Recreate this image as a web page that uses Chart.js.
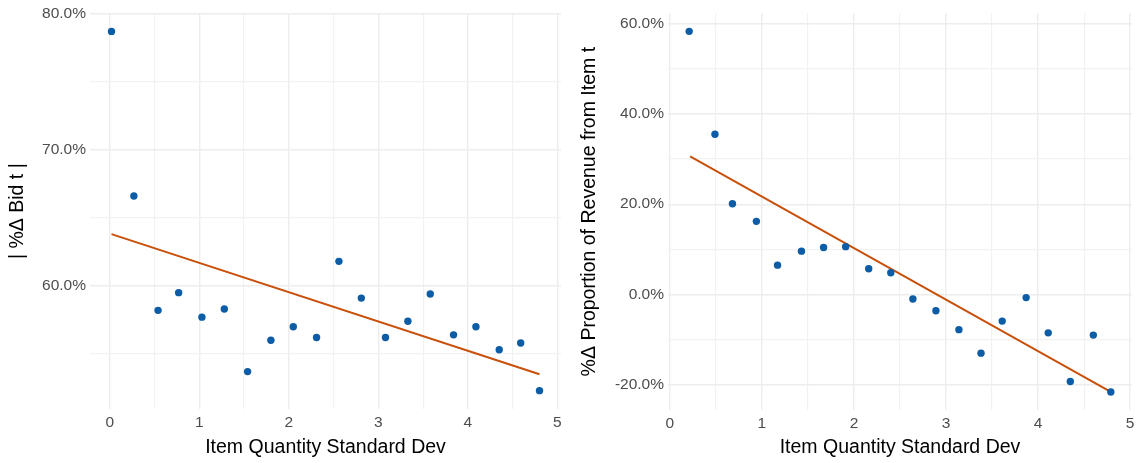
<!DOCTYPE html>
<html lang="en">
<head>
    <meta charset="UTF-8">
    <title>Item Quantity Standard Dev</title>
    <script src="https://cdn.jsdelivr.net/npm/chart.js"></script>
    <style>
        body { margin: 0; background: #fff; }
        .wrap { position: relative; width: 1141px; height: 463px; }
        #bidChart { position: absolute; left: 0; top: 0; }
        #revChart { position: absolute; left: 570px; top: 0; }
    </style>
</head>
<body>
    <div class="wrap">
        <canvas id="bidChart" width="570" height="463"></canvas>
        <canvas id="revChart" width="571" height="463"></canvas>
    </div>

    <script>
        // left panel: |% change in bid| by item quantity sd
        const bidSd = [0.02, 0.27, 0.54, 0.77, 1.03, 1.28, 1.54, 1.80, 2.05, 2.31,
                       2.56, 2.81, 3.08, 3.33, 3.58, 3.84, 4.09, 4.35, 4.59, 4.80];
        const bidPct = [78.7, 66.6, 58.2, 59.5, 57.7, 58.3, 53.7, 56.0, 57.0, 56.2,
                        61.8, 59.1, 56.2, 57.4, 59.4, 56.4, 57.0, 55.3, 55.8, 52.3];
        const bidFitX = [0.02, 4.80];
        const bidFitY = [63.8, 53.5];

        // right panel: % change in revenue share from item t
        const revSd = [0.21, 0.49, 0.68, 0.94, 1.17, 1.43, 1.67, 1.91, 2.16, 2.40,
                       2.64, 2.89, 3.14, 3.38, 3.61, 3.87, 4.11, 4.35, 4.60, 4.79];
        const revPct = [58.3, 35.5, 20.1, 16.2, 6.5, 9.6, 10.4, 10.6, 5.7, 4.8,
                        -1.0, -3.6, -7.8, -13.0, -5.9, -0.7, -8.5, -19.3, -9.0, -21.6];
        const revFitX = [0.22, 4.78];
        const revFitY = [30.6, -21.5];

        // tick positions (major get labels, minor only grid lines)
        const xMajor = [0, 1, 2, 3, 4, 5];
        const xMinor = [0.5, 1.5, 2.5, 3.5, 4.5];
        const bidYMajor = [60, 70, 80];
        const bidYMinor = [55, 65, 75];
        const revYMajor = [-20, 0, 20, 40, 60];
        const revYMinor = [-10, 10, 30, 50];

        const FONT = "'Liberation Sans', Arial, sans-serif";
        const pointColor = '#0C5DA5';
        const lineColor = '#C8500A';

        function toPoints(xs, ys) {
            return xs.map((x, i) => ({ x: x, y: ys[i] }));
        }

        function gridOpts(major) {
            return {
                drawTicks: false,
                color: ctx => major.includes(ctx.tick.value) ? '#EDEDED' : '#F2F2F2',
                lineWidth: ctx => major.includes(ctx.tick.value) ? 1.4 : 1.2
            };
        }

        function makeChart(id, cfg) {
            const ctx = document.getElementById(id).getContext('2d');
            return new Chart(ctx, {
                type: 'scatter',
                data: {
                    datasets: [{
                        data: toPoints(cfg.xs, cfg.ys),
                        backgroundColor: pointColor,
                        borderColor: pointColor,
                        pointRadius: 3.7,
                        borderWidth: 0
                    }, {
                        data: toPoints(cfg.fitX, cfg.fitY),
                        showLine: true,
                        borderColor: lineColor,
                        borderWidth: 2,
                        pointRadius: 0
                    }]
                },
                options: {
                    responsive: false,
                    animation: false,
                    layout: { padding: { top: cfg.padTop, right: 9, bottom: 0, left: 0 } },
                    plugins: { legend: { display: false }, tooltip: { enabled: false } },
                    scales: {
                        x: {
                            type: 'linear',
                            min: cfg.xMin,
                            max: cfg.xMax,
                            border: { display: false },
                            grid: gridOpts(xMajor),
                            afterBuildTicks: s => {
                                s.ticks = xMajor.concat(xMinor).sort((a, b) => a - b).map(v => ({ value: v }));
                            },
                            afterFit: s => { s.height = cfg.xHeight; },
                            ticks: {
                                padding: 4,
                                color: '#4D4D4D',
                                font: { family: FONT, size: 15.5 },
                                callback: v => xMajor.includes(v) ? String(v) : ''
                            },
                            title: {
                                display: true,
                                text: 'Item Quantity Standard Dev',
                                color: '#000',
                                font: { family: FONT, size: 19.5 },
                                padding: { top: 0, bottom: 4 }
                            }
                        },
                        y: {
                            type: 'linear',
                            min: cfg.yMin,
                            max: cfg.yMax,
                            border: { display: false },
                            grid: gridOpts(cfg.yMajor),
                            afterBuildTicks: s => {
                                s.ticks = cfg.yMajor.concat(cfg.yMinor).sort((a, b) => a - b).map(v => ({ value: v }));
                            },
                            afterFit: s => { s.width = cfg.yWidth; },
                            ticks: {
                                padding: 4,
                                color: '#4D4D4D',
                                font: { family: FONT, size: 15.5 },
                                callback: v => cfg.yMajor.includes(v) ? v.toFixed(1) + '%' : ''
                            },
                            title: {
                                display: true,
                                text: cfg.yTitle,
                                color: '#000',
                                font: { family: FONT, size: 19.5 },
                                padding: { top: cfg.yTitlePad, bottom: 0 }
                            }
                        }
                    }
                }
            });
        }

        makeChart('bidChart', {
            xs: bidSd, ys: bidPct, fitX: bidFitX, fitY: bidFitY,
            xMin: -0.22, xMax: 5.04, yMin: 50.95, yMax: 80.03,
            yMajor: bidYMajor, yMinor: bidYMinor,
            yTitle: '| %\u0394 Bid t |',
            padTop: 7, xHeight: 54, yWidth: 90, yTitlePad: 6
        });

        makeChart('revChart', {
            xs: revSd, ys: revPct, fitX: revFitX, fitY: revFitY,
            xMin: -0.02, xMax: 5.02, yMin: -25.6, yMax: 62.3,
            yMajor: revYMajor, yMinor: revYMinor,
            yTitle: '%\u0394 Proportion of Revenue from Item t',
            padTop: 8, xHeight: 53, yWidth: 98, yTitlePad: 8
        });
    </script>
</body>
</html>
